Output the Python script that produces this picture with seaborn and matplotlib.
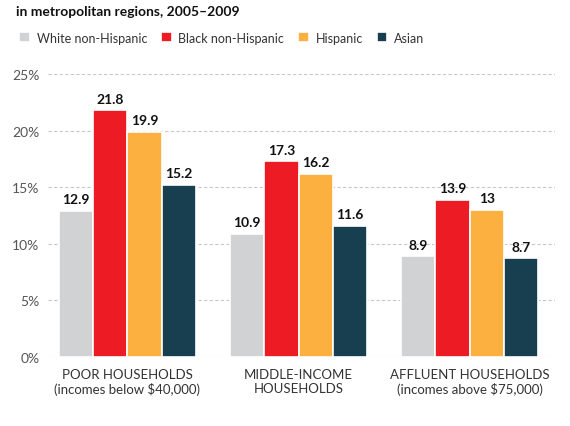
import matplotlib
matplotlib.use("Agg")
import matplotlib.pyplot as plt
import pandas as pd
import seaborn as sns

groups = ["POOR HOUSEHOLDS\n(incomes below $40,000)",
          "MIDDLE-INCOME\nHOUSEHOLDS",
          "AFFLUENT HOUSEHOLDS\n(incomes above $75,000)"]
races = ["White non-Hispanic", "Black non-Hispanic", "Hispanic", "Asian"]
white = [12.9, 10.9, 8.9]
black = [21.8, 17.3, 13.9]
hispanic = [19.9, 16.2, 13.0]
asian = [15.2, 11.6, 8.7]
yticks = [0, 5, 10, 15, 20, 25]

colors = ["#d1d2d4", "#ed1c24", "#fbb040", "#173f4f"]

rows = []
for race, vals in zip(races, [white, black, hispanic, asian]):
    for g, v in zip(groups, vals):
        rows.append({"group": g, "race": race, "value": v})
df = pd.DataFrame(rows)

sns.set_style("white")
plt.rcParams["font.family"] = ["Lato", "DejaVu Sans"]

fig = plt.figure(figsize=(5.7, 4.27), dpi=100)
ax = fig.add_axes([0.084, 0.162, 0.89, 0.662])

sns.barplot(data=df, x="group", y="value", hue="race", order=groups,
            hue_order=races, palette=colors, width=0.8, saturation=1,
            edgecolor="white", linewidth=1.2, ax=ax)

for c in ax.containers:
    ax.bar_label(c, fmt="%g", padding=4, fontsize=10, fontweight="bold",
                 color="#111111")

ax.set_ylim(0, 25)
ax.set_xlim(-0.465, 2.5)
ax.set_yticks(yticks)
ax.set_yticklabels([f"{t}%" for t in yticks], color="#555555", fontsize=10)
ax.yaxis.grid(True, linestyle=(0, (3, 2)), color="#c8c8c8", linewidth=0.8)
ax.set_axisbelow(True)
for s in ax.spines.values():
    s.set_visible(False)
ax.tick_params(axis="y", length=0, pad=6)
ax.tick_params(axis="x", length=0, pad=8, labelsize=9.5, labelcolor="#333333")
ax.set_xlabel("")
ax.set_ylabel("")

ax.legend(loc="upper left", bbox_to_anchor=(0.025, 0.935), bbox_transform=fig.transFigure,
          ncol=4, frameon=False, fontsize=9, handlelength=0.85, handleheight=0.85,
          handletextpad=0.55, columnspacing=1.1, borderaxespad=0, labelcolor="#333333")

fig.text(0.028, 0.985, "in metropolitan regions, 2005\u20132009", fontsize=10,
         fontweight="bold", va="top", ha="left", color="#111111")

fig.savefig("out.png", dpi=100)
